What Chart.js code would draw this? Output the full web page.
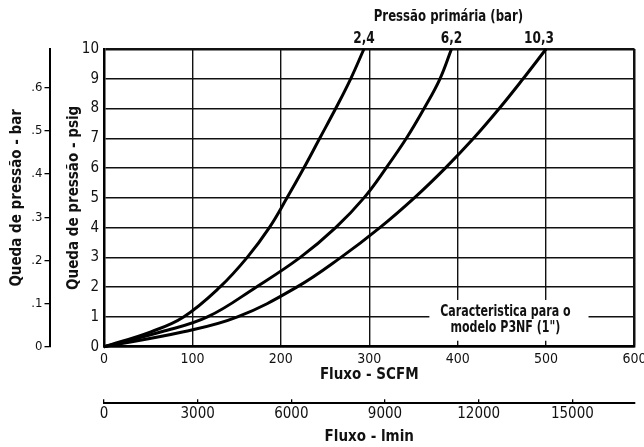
<!DOCTYPE html>
<html>
<head>
<meta charset="utf-8">
<script src="https://cdn.jsdelivr.net/npm/chart.js@4.4.1/dist/chart.umd.min.js"></script>
<style>
  html, body { margin: 0; padding: 0; background: #fff; }
  #wrap { width: 644px; height: 447px; }
</style>
</head>
<body>
<div id="wrap"><canvas id="flowChart"></canvas></div>
<script>
// Queda de pressão vs fluxo, modelo P3NF (1")
const psiLevels = [0, 0.5, 1, 2, 3, 4, 5, 6, 7, 8, 9, 10];
const scfm24 = [0, 53, 90, 131, 162, 187, 207, 226, 244, 262, 279, 294];
const scfm62 = [0, 65, 117, 172, 222, 262, 294, 319, 342, 362, 380, 393];
const scfm103 = [0, 90, 151, 218, 268, 312, 351, 386, 418, 447, 474, 500];
const curveLabels = ["2,4", "6,2", "10,3"];

const scfmTicks = [0, 100, 200, 300, 400, 500, 600];
const psiTicks = [0, 1, 2, 3, 4, 5, 6, 7, 8, 9, 10];
const barTicks = [0, 0.1, 0.2, 0.3, 0.4, 0.5, 0.6];
const lminTicks = [0, 3000, 6000, 9000, 12000, 15000];
const noteLines = ["Caracteristica para o", "modelo P3NF (1\")"];

const PSI_TO_BAR = 0.0689476;
const SCFM_TO_LMIN = 28.3168;
const FONT = "'DejaVu Sans Condensed', 'Liberation Sans Narrow', sans-serif";

Chart.defaults.font.family = FONT;
Chart.defaults.color = "#111";

function toPoints(xs) {
  return psiLevels.map((p, i) => ({ x: xs[i], y: p }));
}

function curve(label, xs) {
  return {
    label: label,
    data: toPoints(xs),
    xAxisID: "x",
    yAxisID: "y",
    showLine: true,
    borderColor: "#000",
    borderWidth: 3,
    pointRadius: 0,
    tension: 0.4,
    clip: false,
  };
}

const fixedTicks = (values) => (scale) => {
  scale.ticks = values.map((v) => ({ value: v }));
};

// narrow text: the source uses a condensed face
function narrowText(ctx, text, x, y, squeeze) {
  ctx.save();
  ctx.translate(x, y);
  ctx.scale(squeeze, 1);
  ctx.fillText(text, 0, 0);
  ctx.restore();
}

// white box with the model note, placed in data units
const notePlugin = {
  id: "note",
  beforeDatasetsDraw(chart, args, opts) {
    const { ctx, scales } = chart;
    const x1 = scales.x.getPixelForValue(opts.xMin);
    const x2 = scales.x.getPixelForValue(opts.xMax);
    const y1 = scales.y.getPixelForValue(opts.yMax);
    const y2 = scales.y.getPixelForValue(opts.yMin);
    ctx.save();
    ctx.fillStyle = "#fff";
    ctx.fillRect(x1, y1, x2 - x1, y2 - y1);
    ctx.fillStyle = "#111";
    ctx.font = "bold 15px " + FONT;
    ctx.textAlign = "center";
    ctx.textBaseline = "middle";
    const cx = scales.x.getPixelForValue(opts.textX);
    opts.lines.forEach((t, i) => {
      narrowText(ctx, t, cx, scales.y.getPixelForValue(opts.textY[i]), 0.82);
    });
    ctx.restore();
  },
};

// pressure labels at the top end of every curve
const endLabelPlugin = {
  id: "endLabels",
  afterDatasetsDraw(chart, args, opts) {
    const { ctx } = chart;
    ctx.save();
    ctx.fillStyle = "#111";
    ctx.textAlign = "center";
    ctx.textBaseline = "middle";
    ctx.font = "bold 15px " + FONT;
    let mid = null;
    chart.data.datasets.forEach((ds, i) => {
      const pts = chart.getDatasetMeta(i).data;
      const last = pts[pts.length - 1];
      narrowText(ctx, ds.label, last.x + opts.dx[i], last.y - 10, 0.9);
      if (i === 1) mid = last;
    });
    if (mid) {
      narrowText(ctx, opts.title, mid.x - 3, mid.y - 32, 0.87);
    }
    ctx.restore();
  },
};

document.addEventListener("DOMContentLoaded", function () {
  const ctx = document.getElementById("flowChart").getContext("2d");
  new Chart(ctx, {
    type: "scatter",
    data: {
      datasets: [
        curve(curveLabels[0], scfm24),
        curve(curveLabels[1], scfm62),
        curve(curveLabels[2], scfm103),
      ],
    },
    options: {
      responsive: true,
      maintainAspectRatio: false,
      animation: false,
      layout: { padding: { top: 49, right: 9.5, bottom: 0, left: 0 } },
      plugins: {
        legend: { display: false },
        tooltip: { enabled: false },
        note: {
          xMin: 368, xMax: 548, yMin: 0.2, yMax: 1.57,
          textX: 454, textY: [1.15, 0.63],
          lines: noteLines,
        },
        endLabels: { title: "Pressão primária (bar)", dx: [0, 0, -7] },
      },
      scales: {
        yBar: {
          type: "linear",
          axis: "y",
          position: "left",
          weight: 1,
          min: 0,
          max: 10 * PSI_TO_BAR,
          afterBuildTicks: fixedTicks(barTicks),
          afterFit: (s) => { s.width = 49.5; },
          border: { display: true, color: "#000", width: 2 },
          grid: { drawOnChartArea: false, color: "#000", lineWidth: 1.3, tickLength: 5 },
          ticks: {
            padding: 2,
            font: { size: 13 },
            callback: (v) => (v === 0 ? "0" : v.toFixed(1).replace("0.", ".")),
          },
          title: {
            display: true,
            text: "Queda de pressão - bar",
            font: { size: 15, weight: "bold" },
            padding: { top: 8, bottom: 0 },
          },
        },
        y: {
          type: "linear",
          position: "left",
          weight: 0,
          min: 0,
          max: 10,
          afterBuildTicks: fixedTicks(psiTicks),
          afterFit: (s) => { s.width = 54.5; },
          border: { display: true, color: "#000", width: 2.5 },
          grid: {
            color: "#111",
            lineWidth: (c) => (c.tick && c.tick.value === 10 ? 2.5 : 1.4),
            drawTicks: false,
          },
          ticks: { padding: 5, font: { size: 15 } },
          title: {
            display: true,
            text: "Queda de pressão - psig",
            font: { size: 15, weight: "bold" },
            padding: { top: 16, bottom: 0 },
          },
        },
        x: {
          type: "linear",
          position: "bottom",
          weight: 0,
          min: 0,
          max: 600,
          afterBuildTicks: fixedTicks(scfmTicks),
          afterFit: (s) => { s.height = 56.6; s.paddingLeft = 0; s.paddingRight = 0; },
          border: { display: true, color: "#000", width: 2.5 },
          grid: {
            color: "#111",
            lineWidth: (c) => (c.tick && c.tick.value === 600 ? 2.5 : 1.4),
            drawTicks: false,
          },
          ticks: { padding: 4, font: { size: 14 }, maxRotation: 0 },
          title: {
            display: true,
            text: "Fluxo - SCFM",
            font: { size: 15, weight: "bold" },
            padding: { top: 0, bottom: 19 },
          },
        },
        xL: {
          type: "linear",
          axis: "x",
          position: "bottom",
          weight: 1,
          min: 0,
          max: 600 * SCFM_TO_LMIN,
          afterBuildTicks: fixedTicks(lminTicks),
          afterFit: (s) => { s.height = 43.7; s.paddingLeft = 0; s.paddingRight = 0; },
          border: { display: true, color: "#000", width: 2 },
          grid: { drawOnChartArea: false, color: "#000", lineWidth: 1.3, tickLength: -4 },
          ticks: { padding: 6, font: { size: 15 }, maxRotation: 0, callback: (v) => String(v) },
          title: {
            display: true,
            text: "Fluxo - lmin",
            font: { size: 15, weight: "bold" },
            padding: { top: 0, bottom: 1 },
          },
        },
      },
    },
    plugins: [notePlugin, endLabelPlugin],
  });
});
</script>
</body>
</html>
